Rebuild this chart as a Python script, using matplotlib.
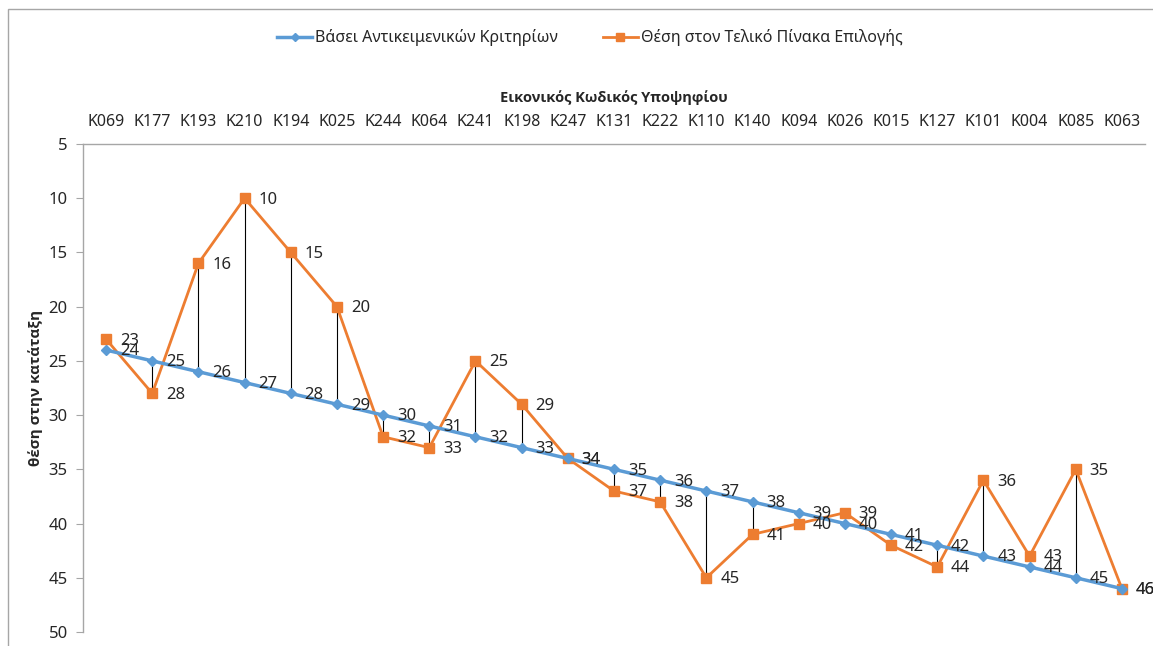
import numpy as np
import matplotlib.pyplot as plt
from matplotlib.patches import Rectangle

plt.rcParams['font.family'] = ['Noto Sans', 'DejaVu Sans']

codes = ["K069", "K177", "K193", "K210", "K194", "K025", "K244", "K064", "K241",
         "K198", "K247", "K131", "K222", "K110", "K140", "K094", "K026", "K015",
         "K127", "K101", "K004", "K085", "K063"]
objective_rank = [24, 25, 26, 27, 28, 29, 30, 31, 32, 33, 34, 35, 36, 37, 38, 39,
                  40, 41, 42, 43, 44, 45, 46]
final_rank = [23, 28, 16, 10, 15, 20, 32, 33, 25, 29, 34, 37, 38, 45, 41, 40,
              39, 42, 44, 36, 43, 35, 46]

label_blue = "Βάσει Αντικειμενικών Κριτηρίων"
label_orange = "Θέση στον Τελικό Πίνακα Επιλογής"
x_title = "Εικονικός Κωδικός Υποψηφίου"
y_title = "θέση στην κατάταξη"

blue = "#5B9BD5"
orange = "#ED7D31"
txt = "#262626"
bold_font = ['Open Sans', 'DejaVu Sans']

fig = plt.figure(figsize=(11.53, 6.46), dpi=100)
W, H = 1153, 646
# outer chart frame
fig.patches.append(Rectangle((8 / W, -0.1), 1.2, 1 - 9 / H + 0.1, transform=fig.transFigure,
                             fill=False, edgecolor="#A6A6A6", linewidth=1.0))

ax = fig.add_axes([83 / W, 1 - 632 / H, (1145 - 83) / W, (632 - 144) / H])
x = np.arange(len(codes))

# drop lines
ax.vlines(x, objective_rank, final_rank, colors="black", linewidth=0.8, zorder=1)

ax.plot(x, objective_rank, color=blue, linewidth=2.5, marker="D", markersize=5,
        label=label_blue, zorder=3)
ax.plot(x, final_rank, color=orange, linewidth=2.0, marker="s", markersize=6.5,
        label=label_orange, zorder=2)

for xi, v in zip(x, objective_rank):
    ax.annotate(str(v), (xi, v), xytext=(10, -1), textcoords="offset points",
                va="center", ha="left", fontsize=12, color=txt, zorder=5)
for xi, v in zip(x, final_rank):
    ax.annotate(str(v), (xi, v), xytext=(10, -1), textcoords="offset points",
                va="center", ha="left", fontsize=12, color=txt, zorder=5)

ax.set_xlim(-0.5, len(codes) - 0.5)
ax.set_ylim(50, 5)
ax.set_yticks(range(5, 51, 5))
ax.set_xticks(x)
ax.set_xticklabels(codes)
ax.xaxis.tick_top()
ax.xaxis.set_label_position("top")
ax.tick_params(axis="x", length=0, pad=10, labelsize=11.5, labelcolor=txt)
ax.tick_params(axis="y", length=5, color="#A6A6A6", pad=6, labelsize=12, labelcolor=txt)
ax.set_xlabel(x_title, fontsize=10.5, fontweight="bold", color=txt, labelpad=9,
              family=bold_font)
ax.set_ylabel(y_title, fontsize=11, fontweight="bold", color=txt, labelpad=4,
              family=bold_font)

for s in ["right", "bottom"]:
    ax.spines[s].set_visible(False)
for s in ["left", "top"]:
    ax.spines[s].set_color("#A6A6A6")
    ax.spines[s].set_linewidth(1.0)

fig.legend(loc="center", bbox_to_anchor=(590 / W, 1 - 38 / H), ncol=2, frameon=False,
           fontsize=11.5, handlelength=2.2, handletextpad=0.2, columnspacing=2.8,
           markerscale=0.8, labelcolor=txt)

fig.savefig("out.png", dpi=100)
